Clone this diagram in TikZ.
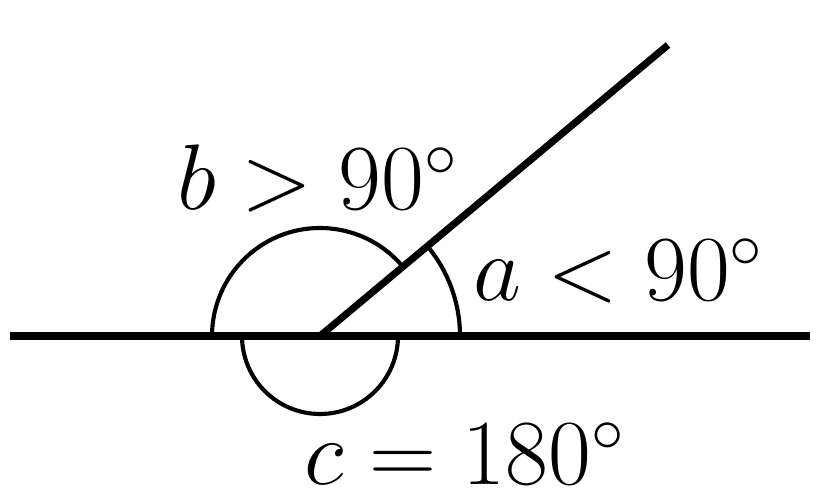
\documentclass[tikz,border=0pt]{standalone}
\usepackage{amsmath}
\usepackage{tikz}
\usetikzlibrary{calc}
\tikzset{
    leg/.style = {line width=1.9pt},
    angle-arc/.style = {line width=1.1pt},
    angle-label/.style = {inner sep=0pt, anchor=base, font=\fontsize{25.3}{30}\selectfont},
}

\begin{document}
\begin{tikzpicture}[x=0.00938cm, y=-0.00938cm]
\useasboundingbox (0,0) rectangle (820,499);
\coordinate (O) at (320,336);
\coordinate (L) at (10,336);
\coordinate (R) at (810,336);
\coordinate (P) at (668,45);
% legs
\draw[leg] (L) -- (R);
\draw[leg] (O) -- (P);
% arcs
\draw[angle-arc] ($(O)+(140,0)$) arc[start angle=0, end angle=-40, radius=140];
\draw[angle-arc] (O) ++(-40:108) arc[start angle=-40, end angle=-180, radius=108];
\draw[angle-arc] (O) ++(-180:78) arc[start angle=-180, end angle=-360, radius=78];
% labels
\node[angle-label] (b-label) at (318,210) {$b > 90^\circ$};
\node[angle-label] (a-label) at (619,301) {$a < 90^\circ$};
\node[angle-label] (c-label) at (465,485) {$c = 180^\circ$};
\end{tikzpicture}
\end{document}
